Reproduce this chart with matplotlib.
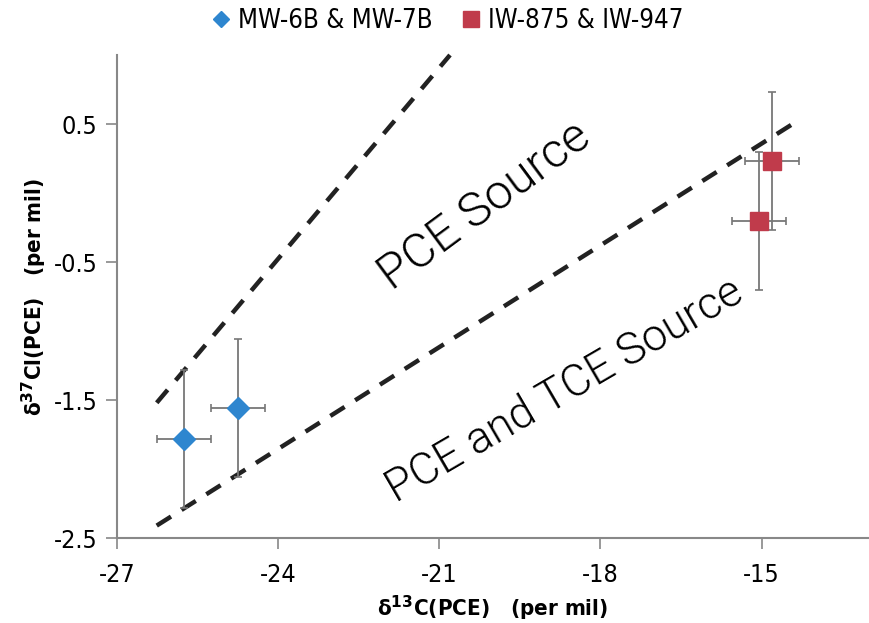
import matplotlib
matplotlib.use('Agg')
import matplotlib.pyplot as plt
from matplotlib.lines import Line2D
from matplotlib import font_manager

# well data (per mil)
mw_c13 = [-25.75, -24.75]
mw_cl37 = [-1.78, -1.56]
mw_xerr = [0.5, 0.5]
mw_yerr = [0.5, 0.5]

iw_c13 = [-14.8, -15.05]
iw_cl37 = [0.23, -0.2]
iw_xerr = [0.5, 0.5]
iw_yerr = [0.5, 0.5]

# boundary lines of the source zones
upper_x = [-26.26, -20.8]
upper_y = [-1.52, 1.0]
lower_x = [-26.26, -14.3]
lower_y = [-2.41, 0.53]

x_ticks = [-27, -24, -21, -18, -15]
y_ticks = [0.5, -0.5, -1.5, -2.5]

names = {f.name for f in font_manager.fontManager.ttflist}
narrow = 'Liberation Sans Narrow' if 'Liberation Sans Narrow' in names else 'DejaVu Sans'


def lab(size, weight='normal'):
    return font_manager.FontProperties(family=narrow, size=size, weight=weight, stretch='condensed')


zone = font_manager.FontProperties(family=['Roboto', 'DejaVu Sans'], weight=300)

blue = '#2e86cf'
red = '#c03b4b'

fig = plt.figure(figsize=(8.69, 6.23), dpi=100)
ax = fig.add_axes([0.1346, 0.1364, 0.8654, 0.7753])

ax.plot(upper_x, upper_y, color='#222222', lw=3.2, dashes=(3.8, 2.8), clip_on=False)
ax.plot(lower_x, lower_y, color='#222222', lw=3.2, dashes=(3.8, 2.8), clip_on=False)

ax.errorbar(mw_c13, mw_cl37, xerr=mw_xerr, yerr=mw_yerr, fmt='none', ecolor='#777777',
            elinewidth=1.3, capsize=3, capthick=1.2)
ax.errorbar(iw_c13, iw_cl37, xerr=iw_xerr, yerr=iw_yerr, fmt='none', ecolor='#777777',
            elinewidth=1.3, capsize=3, capthick=1.2)
ax.plot(mw_c13, mw_cl37, 'D', color=blue, markersize=11, zorder=5)
ax.plot(iw_c13, iw_cl37, 's', color=red, markersize=12.5, zorder=5)

ax.text(-20.15, -0.09, 'PCE Source', rotation=36.5, rotation_mode='anchor',
        ha='center', va='center', fontsize=35, fontproperties=zone, color='black')
ax.text(-18.66, -1.43, 'PCE and TCE Source', rotation=30.2, rotation_mode='anchor',
        ha='center', va='center', fontsize=32, fontproperties=zone, color='black')

ax.set_xlim(-27, -13)
ax.set_ylim(-2.5, 1.0)
ax.set_xticks(x_ticks)
ax.set_yticks(y_ticks)
ax.set_xticklabels([str(t) for t in x_ticks], fontproperties=lab(18))
ax.set_yticklabels([str(t) for t in y_ticks], fontproperties=lab(18))
ax.tick_params(length=8, width=1.2, color='#888888')
ax.tick_params(axis='x', pad=10)
ax.tick_params(axis='y', pad=6)
for side in ['top', 'right']:
    ax.spines[side].set_visible(False)
for side in ['left', 'bottom']:
    ax.spines[side].set_color('#888888')
    ax.spines[side].set_linewidth(1.5)

ax.set_xlabel('δ$^{\\mathbf{13}}$C(PCE)   (per mil)', fontproperties=lab(16, 'bold'), labelpad=5)
ax.set_ylabel('δ$^{\\mathbf{37}}$Cl(PCE)   (per mil)', fontproperties=lab(16, 'bold'), labelpad=3)

handles = [Line2D([], [], marker='D', color=blue, ls='none', markersize=8),
           Line2D([], [], marker='s', color=red, ls='none', markersize=11)]
fig.legend(handles, ['MW-6B & MW-7B', 'IW-875 & IW-947'], loc='upper center',
           bbox_to_anchor=(0.513, 1.025), ncol=2, frameon=False, handlelength=1.0,
           handletextpad=0.15, columnspacing=1.0, prop=lab(18.5))

fig.savefig('out.png', dpi=100)
